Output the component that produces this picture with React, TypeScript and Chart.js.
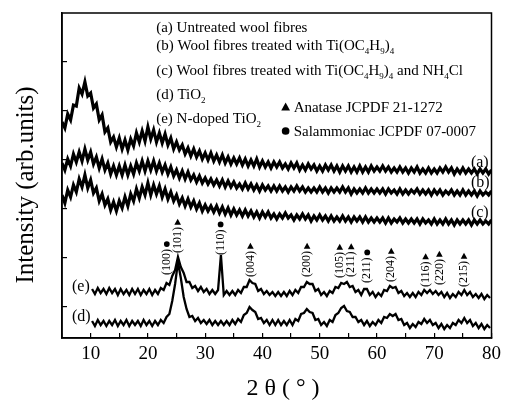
import React, { useEffect, useRef } from 'react';
import { Chart, registerables } from 'chart.js';

Chart.register(...registerables);

const FONT = "'Liberation Serif', 'Times New Roman', serif";

// ---- data: wool fibre traces (a)-(c), sampled from 2θ = 5°, every 0.5°
const wideStart = 5;
const wideStep = 0.5;
const seriesA = [
  216, 210, 224, 218, 233, 232, 250, 244, 256, 242,
  245, 230, 234, 218, 223, 206, 210, 196, 201, 191,
  200, 189, 198, 188, 199, 192, 205, 196, 207, 197,
  211, 199, 208, 196, 205, 195, 204, 193, 200, 189,
  196, 188, 193, 184, 190, 182, 189, 181, 187, 179,
  185, 178, 185, 177, 183, 176, 183, 175, 181, 174,
  180, 174, 180, 173, 179, 172, 178, 172, 179, 171,
  177, 171, 176, 170, 176, 171, 176, 170, 174, 169,
  175, 170, 175, 168, 173, 168, 174, 169, 173, 167,
  172, 167, 173, 168, 173, 167, 172, 166, 172, 167,
  172, 166, 171, 166, 172, 166, 171, 166, 172, 167,
  171, 167, 172, 167, 171, 166, 170, 166, 171, 166,
  170, 165, 170, 166, 171, 165, 169, 165, 170, 165,
  169, 165, 170, 166, 171, 166, 170, 164, 169, 165,
  170, 165, 169, 165, 169, 164, 169, 165, 169, 164,
  168,
];
const seriesB = [
  175, 168, 179, 172, 184, 176, 186, 177, 189, 178,
  186, 174, 181, 170, 179, 168, 175, 164, 172, 163,
  172, 163, 173, 163, 172, 164, 175, 167, 177, 167,
  177, 168, 177, 167, 175, 166, 173, 164, 171, 162,
  168, 160, 167, 159, 166, 158, 163, 156, 162, 155,
  160, 154, 159, 153, 158, 152, 158, 151, 157, 151,
  156, 150, 154, 149, 155, 149, 154, 148, 153, 147,
  153, 148, 152, 147, 152, 147, 152, 147, 151, 146,
  151, 147, 152, 147, 151, 146, 150, 146, 150, 146,
  151, 146, 150, 145, 150, 146, 150, 146, 151, 146,
  150, 144, 149, 145, 149, 145, 150, 145, 149, 145,
  149, 145, 149, 144, 149, 145, 148, 144, 149, 144,
  148, 144, 148, 145, 149, 144, 148, 144, 148, 143,
  148, 144, 148, 143, 147, 144, 148, 143, 147, 143,
  148, 143, 147, 143, 147, 142, 147, 143, 146, 143,
  147,
];
const seriesC = [
  143, 135, 148, 141, 153, 146, 159, 151, 163, 150,
  158, 145, 150, 137, 144, 133, 139, 128, 136, 127,
  137, 130, 141, 132, 144, 137, 149, 140, 151, 143,
  155, 143, 153, 144, 152, 141, 149, 139, 146, 137,
  143, 134, 140, 132, 139, 131, 137, 129, 135, 127,
  133, 127, 132, 126, 132, 125, 131, 124, 130, 123,
  129, 123, 128, 122, 128, 122, 127, 121, 126, 120,
  126, 121, 126, 120, 124, 119, 124, 120, 125, 120,
  123, 118, 123, 119, 124, 119, 123, 117, 122, 118,
  123, 118, 122, 117, 122, 117, 121, 117, 122, 117,
  121, 116, 121, 117, 121, 116, 121, 116, 120, 116,
  120, 116, 120, 115, 120, 115, 119, 116, 120, 115,
  119, 115, 119, 115, 119, 114, 119, 115, 118, 114,
  119, 114, 118, 114, 119, 114, 118, 113, 118, 114,
  118, 114, 118, 113, 118, 114, 118, 114, 117, 114,
  118,
];

// ---- data: TiO2 (d) and N-doped TiO2 (e), sampled from 2θ = 10.25°, every 0.5°
const narrowStart = 10.25;
const narrowStep = 0.5;
const seriesD = [
  17, 12, 18, 13, 17, 12, 17, 13, 18, 12,
  17, 13, 18, 12, 17, 13, 17, 12, 18, 13,
  17, 12, 17, 13, 18, 15, 21, 24, 37, 54,
  76, 60, 41, 29, 21, 22, 17, 20, 15, 18,
  14, 18, 13, 17, 13, 17, 13, 17, 13, 18,
  14, 19, 16, 23, 25, 31, 28, 26, 19, 20,
  15, 18, 13, 18, 13, 18, 13, 17, 13, 18,
  13, 19, 17, 24, 25, 29, 26, 25, 18, 19,
  13, 16, 12, 18, 16, 23, 25, 30, 32, 27,
  26, 21, 21, 16, 18, 13, 17, 12, 16, 13,
  18, 15, 21, 20, 24, 22, 24, 18, 19, 13,
  15, 10, 14, 11, 16, 14, 19, 15, 18, 13,
  15, 10, 14, 9, 13, 10, 15, 13, 18, 15,
  20, 15, 18, 12, 15, 10, 14, 9, 13, 10,
];
const seriesE = [
  49, 44, 50, 45, 49, 44, 50, 45, 49, 43,
  49, 44, 48, 43, 49, 44, 49, 43, 48, 44,
  49, 43, 48, 44, 50, 48, 55, 53, 62, 68,
  81, 71, 65, 56, 56, 50, 52, 47, 51, 46,
  49, 44, 48, 44, 48, 83, 43, 47, 43, 47,
  43, 48, 45, 51, 51, 58, 55, 54, 47, 49,
  44, 47, 43, 46, 42, 46, 42, 46, 42, 47,
  43, 48, 45, 51, 51, 56, 54, 54, 47, 49,
  43, 46, 42, 47, 45, 51, 50, 55, 54, 56,
  51, 52, 46, 48, 43, 49, 49, 43, 46, 41,
  45, 42, 48, 47, 52, 50, 51, 45, 47, 42,
  45, 41, 45, 41, 46, 43, 48, 45, 48, 44,
  47, 43, 46, 41, 45, 40, 44, 41, 46, 43,
  48, 43, 46, 41, 44, 40, 44, 39, 43, 40,
];

// ---- axes
const xMin = 5;
const xMax = 80;
const xStep = 5;
const xLabelled = [10, 20, 30, 40, 50, 60, 70, 80];
const yMin = 0;
const yMax = 325;
const yTickValues = [31, 80, 129, 178, 227, 276];

// ---- texts
const legendLines = [
  '(a) Untreated wool fibres',
  '(b) Wool fibres treated with Ti(OC_4H_9)_4',
  '(c) Wool fibres treated with Ti(OC_4H_9)_4 and NH_4Cl',
  '(d) TiO_2',
  '(e) N-doped TiO_2',
];
const legendX = 21.45;
const legendBaselines = [306, 288, 263, 239, 215];

const phaseNames = ['Anatase JCPDF 21-1272', 'Salammoniac JCPDF 07-0007'];
const phaseMarkers = ['tri', 'dot'];
const phaseX = 44.05;
const phaseBaselines = [226, 202];

const curveNames = ['(a)', '(b)', '(c)', '(e)', '(d)'];
const curveNameX = [76.4, 76.4, 76.4, 6.75, 6.75];
const curveNameY = [175, 155, 125, 51, 21];

const peakNames = ['(100)', '(101)', '(110)', '(004)', '(200)', '(105)', '(211)', '(211)', '(204)', '(116)', '(220)', '(215)'];
const peakMarkers = ['dot', 'tri', 'dot', 'tri', 'tri', 'tri', 'tri', 'dot', 'tri', 'tri', 'tri', 'tri'];
const peakAngles = [23.3, 25.2, 32.7, 37.9, 47.8, 53.5, 55.5, 58.3, 62.5, 68.5, 70.9, 75.2];
const peakLabelBase = [63, 85, 83, 61, 61, 60, 61, 55, 56, 51, 53, 51];

const yTitle = 'Intensity (arb.units)';
const xTitle = '2 θ ( ° )';

function toPoints(start: number, step: number, ys: number[]) {
  return ys.map((y, i) => ({ x: start + i * step, y }));
}

function drawRich(ctx: CanvasRenderingContext2D, str: string, x: number, y: number, size: number) {
  let cx = x;
  let i = 0;
  while (i < str.length) {
    if (str[i] === '_' && i + 1 < str.length) {
      const ch = str[i + 1];
      ctx.font = `${Math.round(size * 0.62)}px ${FONT}`;
      ctx.fillText(ch, cx, y + size * 0.28);
      cx += ctx.measureText(ch).width;
      i += 2;
    } else {
      let j = i;
      while (j < str.length && str[j] !== '_') j++;
      const run = str.slice(i, j);
      ctx.font = `${size}px ${FONT}`;
      ctx.fillText(run, cx, y);
      cx += ctx.measureText(run).width;
      i = j;
    }
  }
}

function drawMarker(ctx: CanvasRenderingContext2D, kind: string, cx: number, cy: number, s: number) {
  ctx.beginPath();
  if (kind === 'tri') {
    ctx.moveTo(cx, cy - s * 0.55);
    ctx.lineTo(cx - s * 0.55, cy + s * 0.45);
    ctx.lineTo(cx + s * 0.55, cy + s * 0.45);
    ctx.closePath();
  } else {
    ctx.arc(cx, cy, s * 0.48, 0, Math.PI * 2);
  }
  ctx.fill();
}

const annotations = {
  id: 'annotations',
  afterDraw(chart: any) {
    const { ctx, chartArea } = chart;
    const xs = chart.scales.x;
    const ys = chart.scales.y;
    ctx.save();
    ctx.fillStyle = '#000';
    ctx.strokeStyle = '#000';
    ctx.lineWidth = 1.5;
    ctx.strokeRect(chartArea.left, chartArea.top, chartArea.right - chartArea.left, chartArea.bottom - chartArea.top);

    ctx.textAlign = 'left';
    ctx.textBaseline = 'alphabetic';
    legendLines.forEach((t, i) => {
      drawRich(ctx, t, xs.getPixelForValue(legendX), ys.getPixelForValue(legendBaselines[i]), 15);
    });

    phaseNames.forEach((t, i) => {
      const px = xs.getPixelForValue(phaseX);
      const py = ys.getPixelForValue(phaseBaselines[i]);
      drawMarker(ctx, phaseMarkers[i], px, py - 5, 8);
      ctx.font = `15px ${FONT}`;
      ctx.fillText(t, px + 8, py);
    });

    ctx.font = `16px ${FONT}`;
    ctx.textBaseline = 'middle';
    curveNames.forEach((t, i) => {
      ctx.fillText(t, xs.getPixelForValue(curveNameX[i]), ys.getPixelForValue(curveNameY[i]));
    });

    ctx.font = `12px ${FONT}`;
    peakNames.forEach((t, i) => {
      const px = xs.getPixelForValue(peakAngles[i]);
      const py = ys.getPixelForValue(peakLabelBase[i]);
      const w = ctx.measureText(t).width;
      ctx.save();
      ctx.translate(px, py);
      ctx.rotate(-Math.PI / 2);
      ctx.textAlign = 'left';
      ctx.textBaseline = 'middle';
      ctx.fillText(t, 0, 0);
      ctx.restore();
      drawMarker(ctx, peakMarkers[i], px, py - w - 5, 6);
    });

    // axis titles
    ctx.font = `25px ${FONT}`;
    ctx.textAlign = 'center';
    ctx.textBaseline = 'middle';
    ctx.save();
    ctx.translate(26, 185);
    ctx.rotate(-Math.PI / 2);
    ctx.fillText(yTitle, 0, 0);
    ctx.restore();
    ctx.font = `24px ${FONT}`;
    ctx.fillText(xTitle, 283, 389);
    ctx.restore();
  },
};

export default function App() {
  const ref = useRef<HTMLCanvasElement | null>(null);
  useEffect(() => {
    if (!ref.current) return;
    const line = (data: { x: number; y: number }[], w: number) => ({
      data,
      borderColor: '#000',
      backgroundColor: '#000',
      borderWidth: w,
      pointRadius: 0,
      tension: 0,
      fill: false,
    });
    const chart = new Chart(ref.current, {
      type: 'line',
      data: {
        datasets: [
          line(toPoints(wideStart, wideStep, seriesA), 3.2),
          line(toPoints(wideStart, wideStep, seriesB), 3.2),
          line(toPoints(wideStart, wideStep, seriesC), 3.2),
          line(toPoints(narrowStart, narrowStep, seriesD), 2.3),
          line(toPoints(narrowStart, narrowStep, seriesE), 2.3),
        ],
      },
      options: {
        animation: false,
        responsive: false,
        devicePixelRatio: 1,
        layout: { padding: { left: 0, right: 11, top: 13, bottom: 0 } },
        plugins: { legend: { display: false }, tooltip: { enabled: false } },
        scales: {
          x: {
            type: 'linear',
            min: xMin,
            max: xMax,
            afterFit: (s: any) => { s.height = 65; },
            border: { display: true, color: '#000', width: 1.5 },
            grid: { drawOnChartArea: false, drawTicks: true, tickLength: -5, color: '#000', lineWidth: 1.2 },
            ticks: {
              stepSize: xStep,
              padding: 10,
              color: '#000',
              font: { family: FONT, size: 19 },
              maxRotation: 0,
              autoSkip: false,
              callback: (v: any) => (xLabelled.includes(Number(v)) ? String(v) : ''),
            },
          },
          y: {
            type: 'linear',
            min: yMin,
            max: yMax,
            afterFit: (s: any) => { s.width = 62; },
            afterBuildTicks: (s: any) => { s.ticks = yTickValues.map((v) => ({ value: v })); },
            border: { display: true, color: '#000', width: 1.5 },
            grid: { drawOnChartArea: false, drawTicks: true, tickLength: -5, color: '#000', lineWidth: 1.2 },
            ticks: { display: false },
          },
        },
      },
      plugins: [annotations],
    } as any);
    return () => chart.destroy();
  }, []);
  return (
    <div style={{ position: 'absolute', left: 0, top: 0, width: 511, height: 403, background: '#fff' }}>
      <canvas ref={ref} width={511} height={403} style={{ display: 'block' }} />
    </div>
  );
}
